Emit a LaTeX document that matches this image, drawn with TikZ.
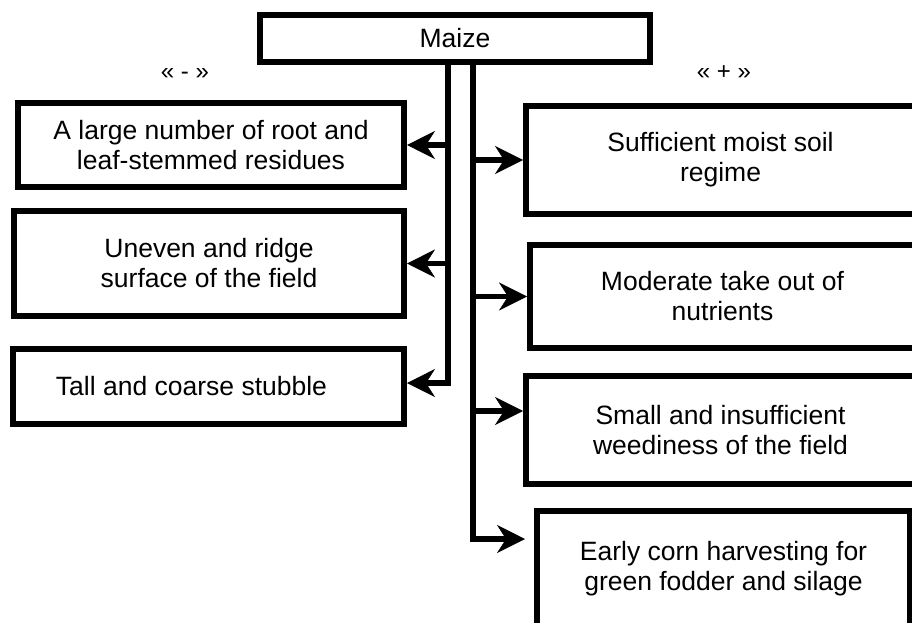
\documentclass[tikz,border=0pt]{standalone}
\usepackage{fontspec}
\setmainfont{Liberation Sans}
\usetikzlibrary{arrows.meta}
\begin{document}
\begin{tikzpicture}[x=1pt,y=-1pt,
  box/.style={draw, line width=6pt, align=center, inner sep=0pt, font=\fontsize{26.5}{30}\selectfont},
  conn/.style={line width=5.5pt},
  arr/.style={conn, -{Stealth[length=28pt,width=28pt,inset=9pt,line width=0.5pt]}},
  sign/.style={font=\fontsize{24}{28}\selectfont, inner sep=0pt}]
\useasboundingbox (0,0) rectangle (912,623);
% boxes
\node[box, minimum width=390pt, minimum height=47pt] (maize) at (455,38.5) {Maize};
\node[box, minimum width=386pt, minimum height=84pt] (L1) at (211,145) {A large number of root and\\leaf-stemmed residues};
\node[box, minimum width=390pt, minimum height=105pt] (L2) at (209,263.5) {Uneven and ridge\\surface of the field};
\node[box, minimum width=391pt, minimum height=75pt] (L3) at (208.5,386.5) {\hspace*{-34pt}Tall and coarse stubble};
\node[box, minimum width=389pt, minimum height=108pt] (R1) at (720.5,160) {Sufficient moist soil\\regime};
\node[box, minimum width=385pt, minimum height=103pt] (R2) at (722.5,296.5) {Moderate take out of\\nutrients};
\node[box, minimum width=389pt, minimum height=108pt] (R3) at (720.5,430) {Small and insufficient\\weediness of the field};
\node[box, minimum width=373pt, minimum height=116pt] (R4) at (723.5,569) {Early corn harvesting for\\green fodder and silage};
% signs
\node[sign] (minus) at (185,74) {« - »};
\node[sign] (plus) at (724,73) {« + »};
% connectors
\coordinate (ls) at (448,383);
\coordinate (rs) at (473,539);
\coordinate (a3) at (473,411);
\coordinate (a4) at (525,539);
\draw[arr] (maize.south -| ls) -- (ls) -- (ls -| L3.east);
\draw[arr] (L1.east -| ls) -- (L1.east);
\draw[arr] (L2.east -| ls) -- (L2.east);
\draw[arr] (maize.south -| rs) -- (rs) -- (a4);
\draw[arr] (R1.west -| rs) -- (R1.west);
\draw[arr] (R2.west -| rs) -- (R2.west);
\draw[arr] (a3) -- (a3 -| R3.west);
\end{tikzpicture}
\end{document}
